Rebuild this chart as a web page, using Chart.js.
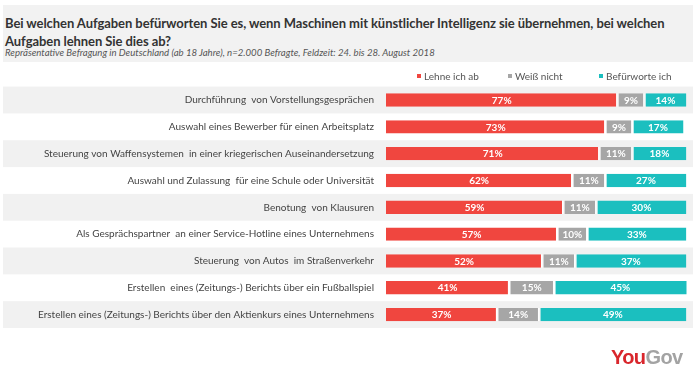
<!DOCTYPE html>
<html lang="de">
<head>
<meta charset="utf-8">
<script src="https://cdn.jsdelivr.net/npm/chart.js@4.4.1/dist/chart.umd.min.js"></script>
<style>
  html, body { margin: 0; padding: 0; background: #ffffff; }
  body { width: 700px; height: 382px; position: relative; overflow: hidden; font-family: Lato, "Open Sans", sans-serif; }
  #wrap { position: absolute; left: 0; top: 0; width: 700px; height: 382px; }
  #header { position: absolute; left: 3px; top: 5px; width: 690px; height: 57px; background: #f2f2f2; }
  #title { position: absolute; left: 5px; top: 14px; width: 680px; font-size: 13px; line-height: 18px; font-weight: 700; letter-spacing: -0.07px; color: #333333; margin: 0; }
  #subtitle { position: absolute; left: 5px; top: 47px; font-size: 9.6px; line-height: 12px; font-style: italic; color: #555555; margin: 0; }
  #legend { position: absolute; left: 0; top: 70px; height: 14px; width: 700px; font-size: 10px; color: #555555; }
  .li { position: absolute; top: 0; line-height: 13px; white-space: nowrap; }
  .sw { display: inline-block; width: 4px; height: 4px; margin-right: 3px; vertical-align: 2px; }
  #logo { position: absolute; left: 611px; top: 347px; font-family: "Liberation Sans", Arial, sans-serif; font-weight: 700; font-size: 20px; line-height: 20px; letter-spacing: -0.6px; white-space: nowrap; }
  #logo .y { color: #d9262c; }
  #logo .g { color: #a3a3a3; }
</style>
</head>
<body>
<div id="wrap">
  <canvas id="c" width="700" height="382"></canvas>
</div>
<div id="header">
</div>
<p id="title">Bei welchen Aufgaben befürworten Sie es, wenn Maschinen mit künstlicher Intelligenz sie übernehmen, bei welchen Aufgaben lehnen Sie dies ab?</p>
<p id="subtitle">Repräsentative Befragung in Deutschland (ab 18 Jahre), n=2.000 Befragte, Feldzeit: 24. bis 28. August 2018</p>
<div id="legend"></div>
<div id="logo"><span class="y">You</span><span class="g">Gov</span></div>
<script>
// ---- data ----
const categories = [
  "Durchführung  von Vorstellungsgesprächen",
  "Auswahl eines Bewerber für einen Arbeitsplatz",
  "Steuerung von Waffensystemen  in einer kriegerischen Auseinandersetzung",
  "Auswahl und Zulassung  für eine Schule oder Universität",
  "Benotung  von Klausuren",
  "Als Gesprächspartner  an einer Service-Hotline eines Unternehmens",
  "Steuerung  von Autos  im Straßenverkehr",
  "Erstellen  eines (Zeitungs-) Berichts über ein Fußballspiel",
  "Erstellen eines (Zeitungs-) Berichts über den Aktienkurs eines Unternehmens"
];
const seriesNames = ["Lehne ich ab", "Weiß nicht", "Befürworte ich"];
const lehneIchAb    = [77, 73, 71, 62, 59, 57, 52, 41, 37];
const weissNicht    = [9, 9, 11, 11, 11, 10, 11, 15, 14];
const befuerworteIch = [14, 17, 18, 27, 30, 33, 37, 45, 49];
const seriesColors = ["#f0463f", "#a6a6a6", "#1bbfbf"];

// ---- legend (HTML) ----
const legendPos = [417, 508, 599];
const legendEl = document.getElementById('legend');
seriesNames.forEach((n, i) => {
  const d = document.createElement('span');
  d.className = 'li';
  d.style.left = legendPos[i] + 'px';
  d.innerHTML = '<span class="sw" style="background:' + seriesColors[i] + '"></span>' + n;
  legendEl.appendChild(d);
});

// ---- plugins ----
const bandsPlugin = {
  id: 'bands',
  beforeDraw(chart) {
    const ctx = chart.ctx;
    const y = chart.scales.y;
    const half = (y.getPixelForValue(1) - y.getPixelForValue(0)) / 2;
    ctx.save();
    ctx.fillStyle = '#f1f1f1';
    categories.forEach((c, i) => {
      if (i % 2 === 0) {
        const py = y.getPixelForValue(i);
        ctx.fillRect(3, py - half, 690, half * 2);
      }
    });
    ctx.restore();
  }
};
const valueLabels = {
  id: 'valueLabels',
  afterDatasetsDraw(chart) {
    const ctx = chart.ctx;
    ctx.save();
    ctx.font = 'bold 10px Lato, "Open Sans", sans-serif';
    ctx.fillStyle = '#ffffff';
    ctx.textAlign = 'center';
    ctx.textBaseline = 'middle';
    chart.data.datasets.forEach((ds, di) => {
      const meta = chart.getDatasetMeta(di);
      meta.data.forEach((bar, i) => {
        const v = ds.data[i];
        const right = Math.min(bar.x, chart.chartArea.right);
        const cx = (bar.base + right) / 2;
        ctx.fillText(v + '%', cx, bar.y + 0.5);
      });
    });
    ctx.restore();
  }
};

new Chart(document.getElementById('c'), {
  type: 'bar',
  data: {
    labels: categories,
    datasets: [
      { label: seriesNames[0], data: lehneIchAb, backgroundColor: seriesColors[0],
        borderColor: '#ffffff', borderWidth: { left: 0, right: 1.3, top: 0, bottom: 0 }, borderSkipped: false },
      { label: seriesNames[1], data: weissNicht, backgroundColor: seriesColors[1],
        borderColor: '#ffffff', borderWidth: { left: 1.3, right: 1.3, top: 0, bottom: 0 }, borderSkipped: false },
      { label: seriesNames[2], data: befuerworteIch, backgroundColor: seriesColors[2],
        borderColor: '#ffffff', borderWidth: { left: 1.3, right: 0, top: 0, bottom: 0 }, borderSkipped: false }
    ]
  },
  options: {
    indexAxis: 'y',
    responsive: false,
    animation: false,
    devicePixelRatio: 1,
    layout: { padding: { top: 86.6, bottom: 54, left: 0, right: 13.5 } },
    datasets: { bar: { barPercentage: 0.5, categoryPercentage: 1.0 } },
    plugins: { legend: { display: false }, tooltip: { enabled: false }, title: { display: false } },
    scales: {
      x: { stacked: true, min: 0, max: 100, display: false },
      y: {
        stacked: true,
        grid: { display: false, drawTicks: false },
        border: { display: false },
        ticks: { padding: 12, color: '#444444', font: { family: 'Lato, "Open Sans", sans-serif', size: 10 }, autoSkip: false },
        afterFit(scale) { scale.width = 386; }
      }
    }
  },
  plugins: [bandsPlugin, valueLabels]
});
</script>
</body>
</html>
